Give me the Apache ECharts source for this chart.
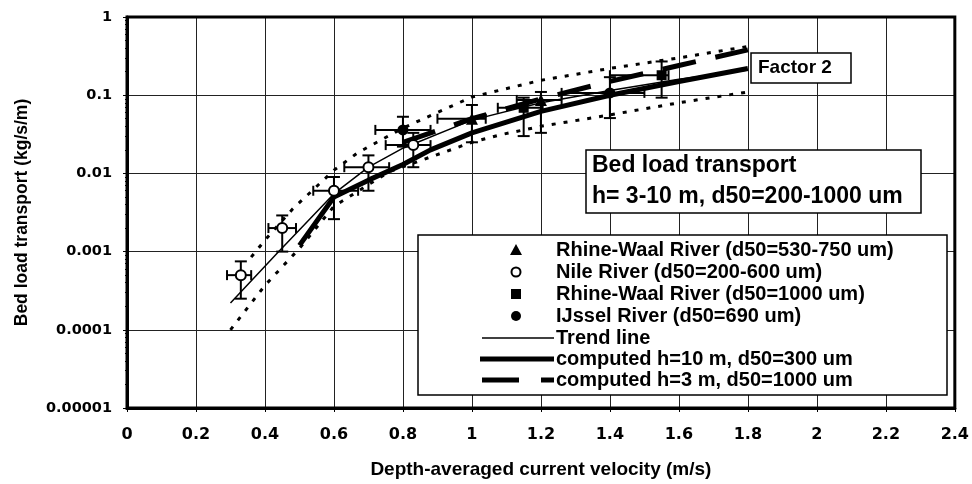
<!DOCTYPE html>
<html><head><meta charset="utf-8">
<script src="https://cdn.jsdelivr.net/npm/echarts@6/dist/echarts.min.js"></script>
<style>html,body{margin:0;padding:0;background:#fff}#c{width:972px;height:484px}</style>
</head><body><div id="c"></div>
<script>
// ---- tick labels ----
const xTickLabels = ['0','0.2','0.4','0.6','0.8','1','1.2','1.4','1.6','1.8','2','2.2','2.4'];
const yTickLabels = ['0.00001','0.0001','0.001','0.01','0.1','1'];

// ---- lines [x, y] ----
const upperBand = [[0.36,0.00085],[0.4,0.0014],[0.48,0.0035],[0.6,0.011],[0.67,0.0185],[0.8,0.038],[1.0,0.095],[1.2,0.155],[1.4,0.22],[1.6,0.3],[1.8,0.42]];
const lowerBand = [[0.3,0.0001],[0.4,0.00037],[0.5,0.0011],[0.6,0.0038],[0.76,0.0105],[1.0,0.025],[1.08,0.031],[1.2,0.04],[1.4,0.056],[1.6,0.08],[1.8,0.11]];
const trendLine = [[0.3,0.00022],[0.44,0.001],[0.6,0.0055],[0.7,0.012],[0.8,0.021],[1.0,0.048],[1.2,0.08],[1.4,0.115],[1.6,0.16],[1.8,0.21]];
const computedH10 = [[0.5,0.0012],[0.6,0.005],[0.7,0.0082],[0.8,0.013],[0.88,0.02],[1.0,0.033],[1.2,0.062],[1.4,0.1],[1.6,0.15],[1.8,0.22]];
const computedH3 = [[0.8,0.025],[1.0,0.05],[1.2,0.09],[1.4,0.15],[1.6,0.24],[1.8,0.38]];

// ---- observations [x, y, xLow, xHigh, yLow, yHigh] ----
const rhineWaal530 = [[1.0,0.05,0.9,1.04,0.025,0.075],[1.2,0.087,1.13,1.26,0.033,0.11]];
const nileRiver = [[0.33,0.0005,0.29,0.36,0.00025,0.00075],[0.45,0.002,0.41,0.49,0.001,0.0029],[0.6,0.006,0.54,0.67,0.0026,0.009],[0.7,0.012,0.63,0.76,0.006,0.017],[0.83,0.023,0.75,0.88,0.012,0.033]];
const rhineWaal1000 = [[1.15,0.069,1.075,1.205,0.03,0.093],[1.55,0.18,1.4,1.57,0.093,0.27]];
const ijsselRiver = [[0.8,0.036,0.72,0.88,0.022,0.053],[1.4,0.107,1.26,1.5,0.051,0.17]];

const FONT = '"Liberation Sans", Arial, sans-serif';
const allObs = rhineWaal530.concat(nileRiver, rhineWaal1000, ijsselRiver);

function lineSeries(name, data, width, type){
  return {name, type:'line', data, symbol:'none', silent:true, z:3,
    lineStyle:{color:'#000', width, type, cap:'butt'}};
}
function scatterSeries(name, data, symbol, size, fill){
  return {name, type:'scatter', data:data.map(d=>[d[0],d[1]]), symbol, symbolSize:size, z:6,
    itemStyle:{color:fill, borderColor:'#000', borderWidth:fill==='#fff'?2:0, opacity:1}};
}

const chart = echarts.init(document.getElementById('c'), null, {renderer:'canvas'});

// legend layout (graphic)
const LX = 418, LY = 235, LW = 529, LH = 160;
const rowY = [250,272,294,316,338,359,380];
const legendTexts = ['Rhine-Waal River (d50=530-750 um)','Nile River (d50=200-600 um)','Rhine-Waal River (d50=1000 um)','IJssel River (d50=690 um)','Trend line','computed h=10 m, d50=300 um','computed h=3 m, d50=1000 um'];
const g = [];
g.push({type:'rect', shape:{x:LX,y:LY,width:LW,height:LH}, style:{fill:'#fff', stroke:'#000', lineWidth:1.5}, z:10});
g.push({type:'polygon', shape:{points:[[516,rowY[0]-6],[522,rowY[0]+5],[510,rowY[0]+5]]}, style:{fill:'#000'}, z:11});
g.push({type:'circle', shape:{cx:516,cy:rowY[1],r:4.5}, style:{fill:'#fff',stroke:'#000',lineWidth:2}, z:11});
g.push({type:'rect', shape:{x:511,y:rowY[2]-5,width:10,height:10}, style:{fill:'#000'}, z:11});
g.push({type:'circle', shape:{cx:516,cy:rowY[3],r:5}, style:{fill:'#000'}, z:11});
g.push({type:'line', shape:{x1:482,y1:rowY[4],x2:554,y2:rowY[4]}, style:{stroke:'#000',lineWidth:1.5}, z:11});
g.push({type:'line', shape:{x1:480,y1:rowY[5],x2:554,y2:rowY[5]}, style:{stroke:'#000',lineWidth:5}, z:11});
g.push({type:'line', shape:{x1:482,y1:rowY[6],x2:519,y2:rowY[6]}, style:{stroke:'#000',lineWidth:5}, z:11});
g.push({type:'line', shape:{x1:541,y1:rowY[6],x2:554,y2:rowY[6]}, style:{stroke:'#000',lineWidth:5}, z:11});
legendTexts.forEach((t,i)=>{
  g.push({type:'text', x:556, y:rowY[i], style:{text:t, font:'bold 20px '+FONT, fill:'#000', textVerticalAlign:'middle'}, z:11});
});
// Factor 2 box
g.push({type:'rect', shape:{x:751,y:53,width:100,height:30}, style:{fill:'#fff',stroke:'#000',lineWidth:1.5}, z:10});
g.push({type:'text', x:758, y:68, style:{text:'Factor 2', font:'bold 19px '+FONT, fill:'#000', textVerticalAlign:'middle'}, z:11});
// Bed load transport box
g.push({type:'rect', shape:{x:586,y:150,width:335,height:63}, style:{fill:'#fff',stroke:'#000',lineWidth:1.5}, z:10});
g.push({type:'text', x:592, y:166, style:{text:'Bed load transport', font:'bold 23px '+FONT, fill:'#000', textVerticalAlign:'middle'}, z:11});
g.push({type:'text', x:592, y:197, style:{text:'h= 3-10 m, d50=200-1000 um', font:'bold 23px '+FONT, fill:'#000', textVerticalAlign:'middle'}, z:11});

chart.setOption({
  animation:false,
  backgroundColor:'#fff',
  grid:{left:127, right:17, top:17, bottom:75, show:true, borderColor:'#000', borderWidth:3, backgroundColor:'transparent', z:8},
  xAxis:{type:'value', min:0, max:2.4, interval:0.2,
    name:'Depth-averaged current velocity (m/s)', nameLocation:'middle', nameGap:52,
    nameTextStyle:{fontFamily:FONT, fontWeight:'bold', fontSize:19, color:'#000'},
    axisLine:{show:true, lineStyle:{color:'#000', width:3}},
    axisTick:{show:true, length:4, lineStyle:{color:'#000', width:1}},
    axisLabel:{margin:19, fontFamily:'"DejaVu Sans", sans-serif', fontWeight:'bold', fontSize:16, color:'#000',
      formatter:v=>xTickLabels[Math.round(v/0.2)]},
    splitLine:{show:true, lineStyle:{color:'#222', width:1}}},
  yAxis:{type:'log', logBase:10, min:0.00001, max:1,
    name:'Bed load transport (kg/s/m)', nameLocation:'middle', nameGap:96,
    nameTextStyle:{fontFamily:FONT, fontWeight:'bold', fontSize:17.5, color:'#000'},
    axisLine:{show:true, lineStyle:{color:'#000', width:3}},
    axisTick:{show:true, length:4, lineStyle:{color:'#000', width:1}},
    minorTick:{show:true, splitNumber:9, length:2, lineStyle:{color:'#000'}},
    axisLabel:{margin:15, fontFamily:'"DejaVu Sans", sans-serif', fontWeight:'bold', fontSize:14.5, color:'#000',
      formatter:v=>yTickLabels[Math.round(Math.log10(v))+5]},
    splitLine:{show:true, lineStyle:{color:'#222', width:1}}},
  graphic:g,
  series:[
    lineSeries('Upper factor 2', upperBand, 3, [4,8]),
    lineSeries('Lower factor 2', lowerBand, 3, [4,8]),
    lineSeries('Trend line', trendLine, 1.5, 'solid'),
    lineSeries('computed h=10 m, d50=300 um', computedH10, 5, 'solid'),
    lineSeries('computed h=3 m, d50=1000 um', computedH3, 5, [34,20]),
    {name:'error bars', type:'custom', z:5, data:allObs,
      renderItem:function(params, api){
        const x=api.value(0), y=api.value(1), xl=api.value(2), xh=api.value(3), yl=api.value(4), yh=api.value(5);
        const t=api.coord([x,yh]), b=api.coord([x,yl]), l=api.coord([xl,y]), r=api.coord([xh,y]);
        const cw=6, ch=5, st={stroke:'#000', lineWidth:2};
        const L=(x1,y1,x2,y2)=>({type:'line', shape:{x1,y1,x2,y2}, style:st});
        return {type:'group', children:[
          L(t[0],t[1],b[0],b[1]), L(t[0]-cw,t[1],t[0]+cw,t[1]), L(b[0]-cw,b[1],b[0]+cw,b[1]),
          L(l[0],l[1],r[0],r[1]), L(l[0],l[1]-ch,l[0],l[1]+ch), L(r[0],r[1]-ch,r[0],r[1]+ch)
        ]};
      }},
    scatterSeries('Rhine-Waal River (d50=530-750 um)', rhineWaal530, 'triangle', 12, '#000'),
    scatterSeries('Nile River (d50=200-600 um)', nileRiver, 'circle', 10, '#fff'),
    scatterSeries('Rhine-Waal River (d50=1000 um)', rhineWaal1000, 'rect', 10, '#000'),
    scatterSeries('IJssel River (d50=690 um)', ijsselRiver, 'circle', 11, '#000')
  ]
});
</script></body></html>
